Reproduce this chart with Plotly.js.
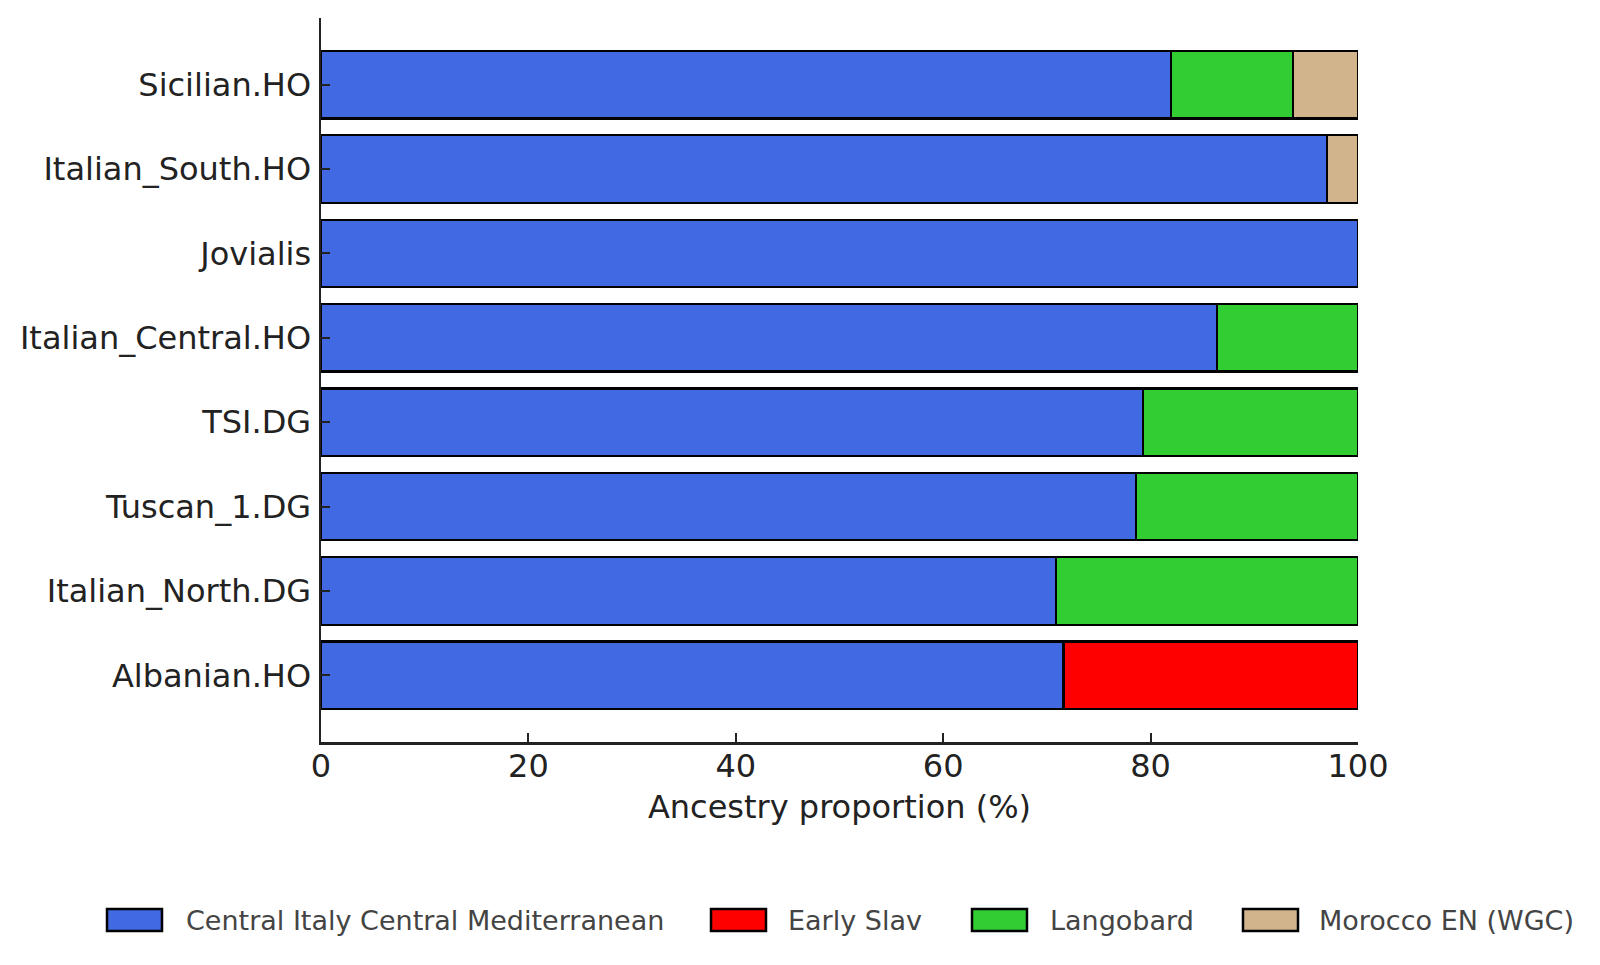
<!DOCTYPE html>
<html>
<head>
<meta charset="utf-8">
<script src="https://cdn.plot.ly/plotly-3.0.1.min.js"></script>
<style>
  html, body { margin: 0; padding: 0; background: #ffffff; }
  #chart { width: 1600px; height: 965px; }
</style>
</head>
<body>
<div id="chart"></div>
<script>
// Populations, top to bottom
const populations = [
  'Sicilian.HO', 'Italian_South.HO', 'Jovialis', 'Italian_Central.HO',
  'TSI.DG', 'Tuscan_1.DG', 'Italian_North.DG', 'Albanian.HO'
];

// Ancestry components (%), one value per population (null = absent)
const centralItalyMed = [82.0, 97.0, 100.0, 86.4, 79.3, 78.6, 70.9, 71.6];
const earlySlav       = [null, null, null, null, null, null, null, 28.4];
const langobard       = [11.7, null, null, 13.6, 20.7, 21.4, 29.1, null];
const moroccoEN       = [6.3, 3.0, null, null, null, null, null, null];

const componentNames  = ['Central Italy Central Mediterranean', 'Early Slav', 'Langobard', 'Morocco EN (WGC)'];
const componentValues = [centralItalyMed, earlySlav, langobard, moroccoEN];
const componentColors = ['#4169E1', '#FF0000', '#32CD32', '#D2B48C'];

const xTicks = [0, 20, 40, 60, 80, 100];

const FONT = 'DejaVu Sans, sans-serif';

const traces = componentNames.map((name, i) => ({
  type: 'bar',
  orientation: 'h',
  name: name,
  y: populations,
  x: componentValues[i],
  marker: { color: componentColors[i], line: { color: '#000000', width: 2.3 } },
  showlegend: false,
  hoverinfo: 'name+x'
}));

// Plot area in pixels
const W = 1600, H = 965;
const L = 321, R = 242, T = 18, B = 223;
const plotW = W - L - R, plotH = H - T - B;
const toPx = (px) => (px - L) / plotW;
const toPy = (py) => (H - B - py) / plotH;

// Key below the plot: swatch left edges and label starts in pixels
const keySwatchX = [107, 711, 972, 1243];
const keyTextX   = [184, 786, 1048, 1317];
const keyY0 = 909, keyY1 = 931, keyYc = 920;

const shapes = componentNames.map((n, i) => ({
  type: 'rect', xref: 'paper', yref: 'paper',
  x0: toPx(keySwatchX[i]), x1: toPx(keySwatchX[i] + 55),
  y0: toPy(keyY1), y1: toPy(keyY0),
  fillcolor: componentColors[i],
  line: { color: '#000000', width: 2.5 }
}));

const annotations = componentNames.map((n, i) => ({
  xref: 'paper', yref: 'paper',
  x: toPx(keyTextX[i]), y: toPy(keyYc),
  xanchor: 'left', yanchor: 'middle',
  text: n, showarrow: false,
  font: { family: FONT, size: 27, color: '#444444' }
}));

const layout = {
  width: W, height: H,
  margin: { l: L, r: R, t: T, b: B, pad: 0 },
  paper_bgcolor: '#ffffff',
  plot_bgcolor: '#ffffff',
  barmode: 'stack',
  bargap: 0.2,
  font: { family: FONT, size: 32, color: '#222222' },
  xaxis: {
    range: [0, 100],
    tickvals: xTicks,
    ticktext: xTicks.map(String),
    ticks: 'inside', ticklen: 9, tickwidth: 2, tickcolor: '#222222',
    showline: true, linecolor: '#222222', linewidth: 2.5,
    showgrid: false, zeroline: false,
    tickfont: { family: FONT, size: 32, color: '#222222' },
    ticklabelstandoff: -6,
    title: { text: 'Ancestry proportion (%)', standoff: 12,
             font: { family: FONT, size: 32, color: '#222222' } },
    automargin: false,
    fixedrange: true
  },
  yaxis: {
    type: 'category',
    categoryorder: 'array',
    categoryarray: populations,
    range: [7.79, -0.79],
    ticks: 'inside', ticklen: 9, tickwidth: 2, tickcolor: '#222222',
    showline: true, linecolor: '#222222', linewidth: 2.5,
    showgrid: false, zeroline: false,
    tickfont: { family: FONT, size: 32, color: '#222222' },
    ticklabelstandoff: 1,
    automargin: false,
    fixedrange: true
  },
  shapes: shapes,
  annotations: annotations
};

Plotly.newPlot('chart', traces, layout, { displayModeBar: false, staticPlot: true });
</script>
</body>
</html>
